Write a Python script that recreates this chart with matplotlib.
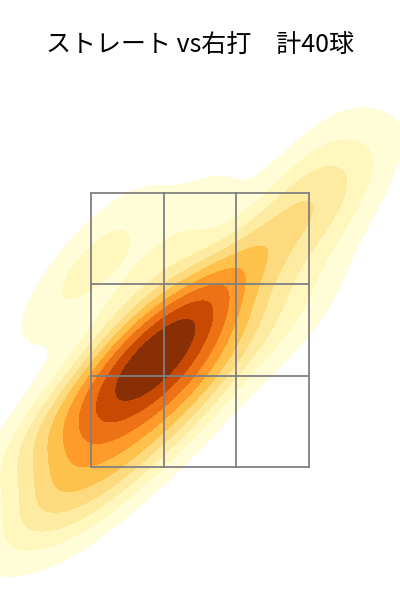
import matplotlib
matplotlib.use("Agg")
import matplotlib.pyplot as plt
import seaborn as sns
import numpy as np

titulo = "ストレート vs右打　計40球"

# コース (cm)  x: 横, z: 高さ
plate_x = [-9, -12, -6, -15, -3, -10, -8, -13, -5, -16.4, -1, -11,
           -20, -24, -16, -28, 2, 6, 8, -2, -14, -22, -6, 2,
           -30, -30, -22, -33, 14, 20, 30, 18, -26, -3, 22, -16, 24, -18, -5, 3]
plate_z = [67.4, 64.4, 70.4, 61.4, 73.4, 70.4, 64.0, 68.4, 66.4, 64.8, 70.4, 59.4,
           54.4, 49.4, 50.4, 54.4, 78.4, 82.4, 74.4, 80.4, 76.4, 62.4, 58.4, 66.4,
           40.4, 37.4, 38.4, 50.4, 90.4, 96.4, 102.4, 74.4, 80.4, 93.4, 105.4, 44.4, 90.4, 90.4, 52.4, 63.4]

# ストライクゾーン
zona_x = [-21.8, -7.27, 7.27, 21.8]
zona_z = [45.0, 63.27, 81.53, 99.8]

fig = plt.figure(figsize=(4, 6), dpi=100)
ax = fig.add_axes([0, 0, 1, 1])

sns.kdeplot(x=plate_x, y=plate_z, fill=True, cmap="YlOrBr",
            levels=10, thresh=0.05, ax=ax)

for xv in zona_x:
    ax.plot([xv, xv], [zona_z[0], zona_z[-1]], color="gray", linewidth=1.3)
for zv in zona_z:
    ax.plot([zona_x[0], zona_x[-1]], [zv, zv], color="gray", linewidth=1.3)

ax.set_xlim(-40, 40)
ax.set_ylim(18.4, 138.4)
ax.axis("off")

fig.text(0.5, 1 - 45 / 600, titulo, ha="center", va="center", fontsize=18,
         family=["Noto Sans CJK JP", "DejaVu Sans"])

plt.savefig("out.png", dpi=100)
plt.close()
